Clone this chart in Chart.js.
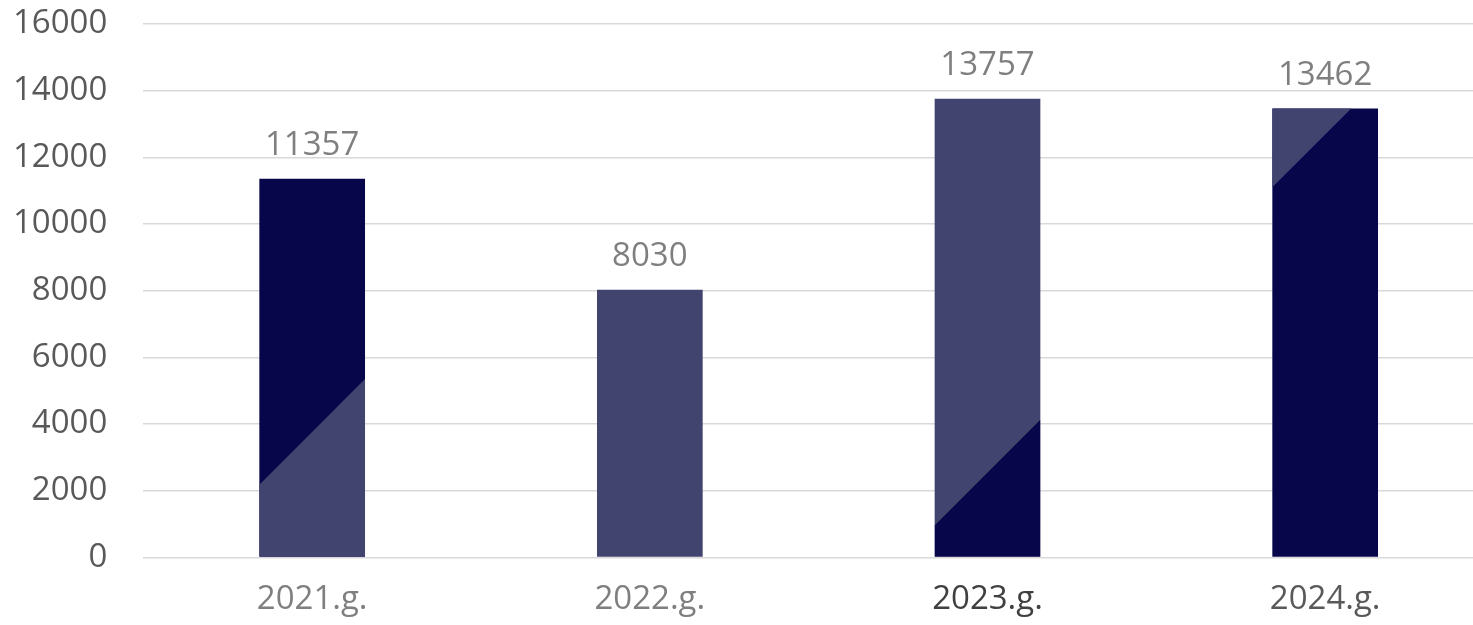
<!DOCTYPE html>
<html>
<head>
<meta charset="utf-8">
<script src="https://cdn.jsdelivr.net/npm/chart.js@4/dist/chart.umd.min.js"></script>
<style>
  html, body { margin: 0; padding: 0; background: #fff; overflow: hidden; }
  canvas { display: block; }
</style>
</head>
<body>
<canvas id="chart" width="1494" height="625"></canvas>
<script>
// dati
const categories = ["2021.g.", "2022.g.", "2023.g.", "2024.g."];
const values = [11357, 8030, 13757, 13462];
const yMin = 0;
const yMax = 16000;
const yStep = 2000;

// krāsas
const dark = "#08064a";
const light = "#424470";
const baseColors = [dark, light, light, dark];
// diagonālā sadalījuma stils katram stabiņam (vērtība pie kreisās malas)
const splitStyle = [
  { at: 2180, side: "below", color: light },
  null,
  { at: 960, side: "below", color: dark },
  { at: 11100, side: "above", color: light }
];
const xLabelColors = ["#7f7f7f", "#7f7f7f", "#404040", "#595959"];

const twoTone = {
  id: "twoTone",
  afterDatasetsDraw(chart) {
    const { ctx } = chart;
    const yScale = chart.scales.y;
    const meta = chart.getDatasetMeta(0);
    meta.data.forEach((bar, i) => {
      const { x, y, base, width } = bar.getProps(["x", "y", "base", "width"], true);
      const l = x - width / 2, r = x + width / 2;
      const s = splitStyle[i];
      if (s) {
        const yl = yScale.getPixelForValue(s.at);
        const yr = yl - width;
        ctx.save();
        ctx.beginPath();
        ctx.rect(l, y, width, base - y);
        ctx.clip();
        ctx.beginPath();
        ctx.moveTo(l, yl);
        ctx.lineTo(r, yr);
        if (s.side === "below") {
          ctx.lineTo(r, base);
          ctx.lineTo(l, base);
        } else {
          ctx.lineTo(r, y - width);
          ctx.lineTo(l, y - width);
        }
        ctx.closePath();
        ctx.fillStyle = s.color;
        ctx.fill();
        ctx.restore();
      }
      // vērtības virs stabiņiem
      ctx.save();
      ctx.font = "33px 'Open Sans'";
      ctx.fillStyle = "#7f7f7f";
      ctx.textAlign = "center";
      ctx.textBaseline = "alphabetic";
      ctx.fillText(String(values[i]), x, y - 24);
      ctx.restore();
    });
  }
};

new Chart(document.getElementById("chart"), {
  type: "bar",
  data: {
    labels: categories,
    datasets: [{
      data: values,
      backgroundColor: baseColors,
      borderWidth: 0,
      categoryPercentage: 1,
      barPercentage: 0.313
    }]
  },
  options: {
    responsive: false,
    animation: false,
    layout: { padding: { top: 24, left: 13, right: 0, bottom: 6 } },
    plugins: { legend: { display: false }, tooltip: { enabled: false } },
    scales: {
      x: {
        grid: { drawOnChartArea: false, drawTicks: true, tickLength: 22, tickColor: "rgba(0,0,0,0)" },
        border: { display: false },
        ticks: {
          padding: 0,
          color: ctx => xLabelColors[ctx.index],
          font: { family: "'Open Sans'", size: 33 }
        }
      },
      y: {
        min: yMin,
        max: yMax,
        grid: { color: "#d9d9d9", lineWidth: 1.5, drawTicks: true, tickLength: 36, tickColor: "rgba(0,0,0,0)" },
        border: { display: false },
        ticks: {
          stepSize: yStep,
          padding: 0,
          color: "#595959",
          font: { family: "'Open Sans'", size: 33 },
          callback: v => String(v)
        }
      }
    }
  },
  plugins: [twoTone]
});
</script>
</body>
</html>
